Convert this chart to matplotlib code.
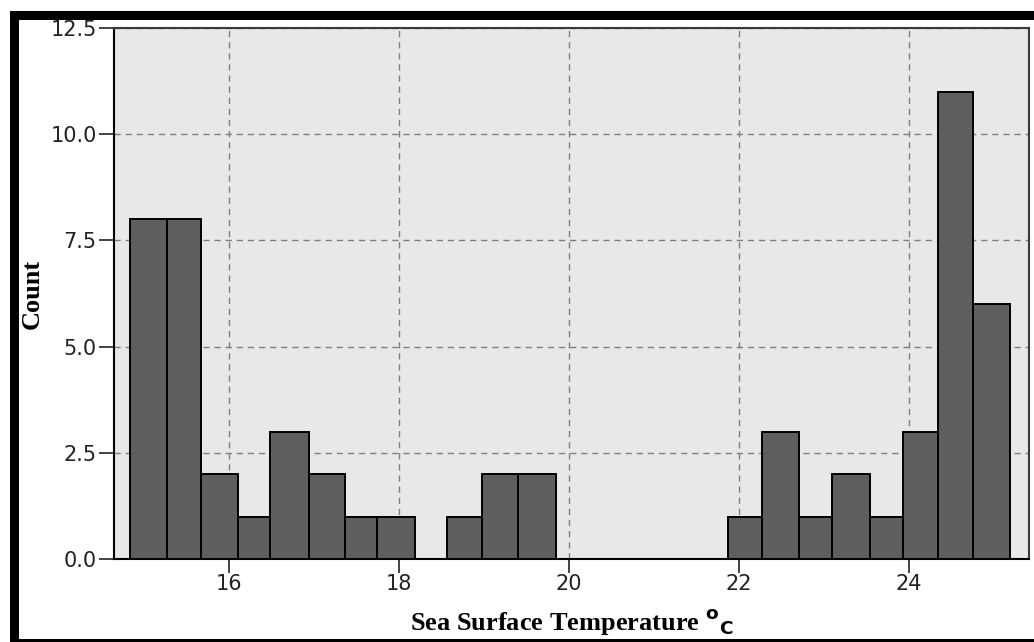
import numpy as np
import matplotlib.pyplot as plt
from matplotlib.patches import Rectangle

# bin edges (deg C) and the count in each bin
bin_edges = [14.84, 15.27, 15.67, 16.11, 16.49, 16.94, 17.37, 17.74, 18.19,
             18.57, 18.98, 19.40, 19.85,
             21.88, 22.28, 22.71, 23.10, 23.55, 23.93, 24.35, 24.76, 25.20]
counts = [8, 8, 2, 1, 3, 2, 1, 1, 0,
          1, 2, 2, 0,
          1, 3, 1, 2, 1, 3, 11, 6]

x_ticks = [16, 18, 20, 22, 24]
y_ticks = [0.0, 2.5, 5.0, 7.5, 10.0, 12.5]

plt.rcParams['mathtext.fontset'] = 'custom'
plt.rcParams['mathtext.bf'] = 'DejaVu Sans:bold'

fig = plt.figure(figsize=(10.34, 6.42), dpi=100)
ax = fig.add_axes([114 / 1034, 83 / 642, 915 / 1034, 531 / 642])
ax.set_facecolor('#e8e8e8')

edges = np.array(bin_edges)
lefts = edges[:-1]
widths = np.diff(edges)
heights = np.array(counts)
keep = heights > 0
ax.bar(lefts[keep], heights[keep], width=widths[keep], align='edge',
       color='#5e5e5e', edgecolor='black', linewidth=1.4, zorder=3)

ax.set_xlim(14.649, 25.418)
ax.set_ylim(0, 12.5)
ax.set_xticks(x_ticks)
ax.set_yticks(y_ticks)
ax.set_yticklabels([f'{v:.1f}' for v in y_ticks])

ax.grid(True, color='#7e7e7e', linestyle=(0, (4.5, 3.5)), linewidth=1.0, zorder=1)
ax.set_axisbelow(True)

ax.tick_params(axis='both', direction='out', colors='#222222', labelsize=15,
               width=1.2, length=11, pad=1.5)
ax.tick_params(axis='x', length=10, pad=1)

for side in ['left', 'bottom']:
    ax.spines[side].set_color('black')
    ax.spines[side].set_linewidth(1.5)
for side in ['top', 'right']:
    ax.spines[side].set_color('#3a3a3a')
    ax.spines[side].set_linewidth(1.5)

ax.set_xlabel(r'Sea Surface Temperature $^{\mathbf{o}}$$_{\mathbf{C}}$',
              family='Liberation Serif', fontweight='bold', fontsize=19,
              labelpad=9)
ax.set_ylabel('Count', family='Liberation Serif', fontweight='bold',
              fontsize=19, labelpad=5)

# black frame round the picture
fig.patches.append(Rectangle((13.5 / 1034, -0.5 / 642), 1022 / 1034, 628 / 642,
                             transform=fig.transFigure, fill=False,
                             edgecolor='black', linewidth=6.5,
                             joinstyle='miter', zorder=10))

fig.savefig('out.png', dpi=100)
